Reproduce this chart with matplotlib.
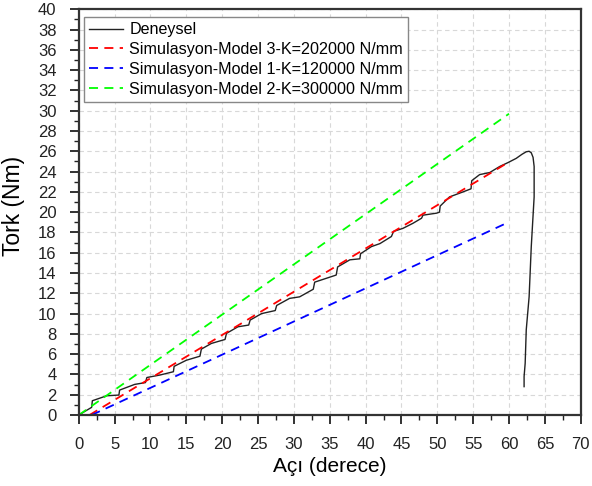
import numpy as np
import matplotlib.pyplot as plt
from matplotlib.ticker import MultipleLocator

plt.rcParams['font.family'] = ['Liberation Sans', 'DejaVu Sans']

# deneysel tork-aci egrisi
deney_aci = [0, 1.8, 1.9, 3.9, 5.6, 5.7, 7.8, 9.3, 9.5, 11.3, 13.2, 13.3, 15.0, 16.9, 17.1,
             18.5, 20.4, 20.6, 22.2, 23.7, 23.9, 25.5, 27.4, 27.6, 29.4, 30.8, 32.7, 32.9,
             35.9, 36.1, 37.8, 39.2, 39.3, 40.8, 42.0, 43.6, 43.9, 45.2, 46.6, 47.8, 48.0,
             49.9, 50.3, 50.4, 51.7, 53.6, 54.7, 54.8, 55.9, 57.3, 58.7, 59.9, 61.0, 61.8,
             62.4, 62.8, 63.1, 63.35, 63.5, 63.5, 63.1, 62.8, 62.4, 62.25, 62.1, 62.1]
deney_tork = [0, 0.76, 1.41, 1.9, 1.97, 2.46, 3.02, 3.2, 3.7, 3.94, 4.27, 4.8, 5.4, 5.8, 6.5,
              7.06, 7.45, 8.05, 8.7, 8.87, 9.36, 10.0, 10.3, 10.8, 11.5, 11.65, 12.4, 13.1,
              13.8, 14.6, 15.3, 15.4, 15.9, 16.6, 16.9, 17.6, 18.1, 18.4, 18.9, 19.4, 19.7,
              19.9, 20.0, 20.6, 21.5, 22.0, 22.3, 23.1, 23.7, 23.9, 24.5, 24.9, 25.3, 25.7,
              25.95, 26.0, 25.85, 25.4, 24.5, 21.5, 16.6, 11.65, 8.4, 5.1, 3.8, 2.8]

# simulasyon modelleri (baslangic ve bitis)
m3_aci = [1.5, 60.0]
m3_tork = [0.0, 24.95]
m1_aci = [1.8, 59.6]
m1_tork = [0.0, 18.9]
m2_aci = [0.0, 60.0]
m2_tork = [0.0, 29.7]

fig = plt.figure(figsize=(5.92, 4.86), dpi=100)
ax = fig.add_axes([0.133, 0.146, 0.848, 0.835])

ax.plot(deney_aci, deney_tork, color='#222222', lw=1.0, label='Deneysel')
ax.plot(m3_aci, m3_tork, color='#ff0000', lw=1.3, dashes=(5, 3.5),
        label='Simulasyon-Model 3-K=202000 N/mm')
ax.plot(m1_aci, m1_tork, color='#0000ff', lw=1.3, dashes=(5, 3.5),
        label='Simulasyon-Model 1-K=120000 N/mm')
ax.plot(m2_aci, m2_tork, color='#00ff00', lw=1.3, dashes=(5, 3.5),
        label='Simulasyon-Model 2-K=300000 N/mm')

ax.set_xlim(0, 70)
ax.set_ylim(0, 40)
ax.xaxis.set_major_locator(MultipleLocator(5))
ax.xaxis.set_minor_locator(MultipleLocator(2.5))
ax.yaxis.set_major_locator(MultipleLocator(2))
ax.yaxis.set_minor_locator(MultipleLocator(1))
ax.tick_params(which='major', direction='out', length=6.5, width=1.3, labelsize=12,
               colors='#222222', pad=9.5)
ax.tick_params(which='minor', direction='out', length=3.5, width=1.0, colors='#222222')
ax.grid(True, which='major', color='#d8d8d8', ls=(0, (4, 3)), lw=0.8)
for s in ax.spines.values():
    s.set_linewidth(1.6)
    s.set_color('#333333')

ax.set_xlabel('Açı (derece)', fontsize=15)
ax.set_ylabel('Tork (Nm)', fontsize=16.5)
ax.xaxis.set_label_coords(0.5, -0.103)
ax.yaxis.set_label_coords(-0.107, 0.516)

ax.legend(loc='upper left', bbox_to_anchor=(0.01, 0.98), borderaxespad=0,
          fontsize=11.6, fancybox=False, edgecolor='#888888', framealpha=1,
          handlelength=2.15, handletextpad=0.37, labelspacing=0.3, borderpad=0.3)

fig.savefig('out.png', dpi=100)
